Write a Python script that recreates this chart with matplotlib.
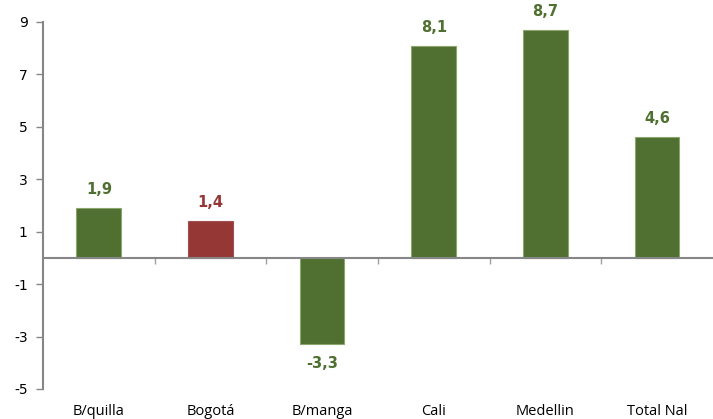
import numpy as np
import matplotlib.pyplot as plt
from matplotlib.transforms import blended_transform_factory

# Data
cities = ["B/quilla", "Bogotá", "B/manga", "Cali", "Medellin", "Total Nal"]
values = [1.9, 1.4, -3.3, 8.1, 8.7, 4.6]
labels = ["1,9", "1,4", "-3,3", "8,1", "8,7", "4,6"]
yticks = [-5, -3, -1, 1, 3, 5, 7, 9]

green = "#4F7030"
red = "#953735"
grey = "#868686"
colors = [red if c == "Bogotá" else green for c in cities]
edges = ["#A05050" if c == "Bogotá" else "#8DA66E" for c in cities]

fig = plt.figure(figsize=(7.13, 4.19), dpi=100)
ax = fig.add_axes([0.0603, 0.0716, 0.9397, 0.8759])

x = np.arange(len(cities))
ax.bar(x, values, width=0.4, color=colors, edgecolor=edges, linewidth=0.8, zorder=2)

ax.set_xlim(-0.5, len(cities) - 0.5)
ax.set_ylim(-5, 9)
ax.set_yticks(yticks)
ax.set_yticklabels([str(t) for t in yticks], fontsize=10, family="DejaVu Sans")
ax.tick_params(axis="y", length=5, color=grey, width=1, pad=6)

# x axis sits on zero, ticks between categories
ax.spines["bottom"].set_position(("data", 0))
ax.spines["bottom"].set_color(grey)
ax.spines["bottom"].set_linewidth(1.5)
ax.spines["left"].set_color(grey)
ax.spines["left"].set_linewidth(1.5)
ax.spines["top"].set_visible(False)
ax.spines["right"].set_visible(False)
ax.set_xticks(np.arange(0.5, len(cities) - 0.5, 1))
ax.set_xticklabels([])
ax.tick_params(axis="x", length=4, color="#A0A0A0", width=1, direction="out")

# value labels
for xi, v, lab, c in zip(x, values, labels, colors):
    off = 0.7 if v >= 0 else -0.74
    ax.text(xi, v + off, lab, ha="center", va="center", color=c,
            fontsize=10.5, fontweight="bold", family="DejaVu Sans")

# category names under the plot
trans = blended_transform_factory(ax.transData, ax.transAxes)
for xi, name in zip(x, cities):
    ax.text(xi, -0.06, name, transform=trans, ha="center", va="center",
            fontsize=10.5, family="Open Sans", color="black")

fig.savefig("out.png", dpi=100)
